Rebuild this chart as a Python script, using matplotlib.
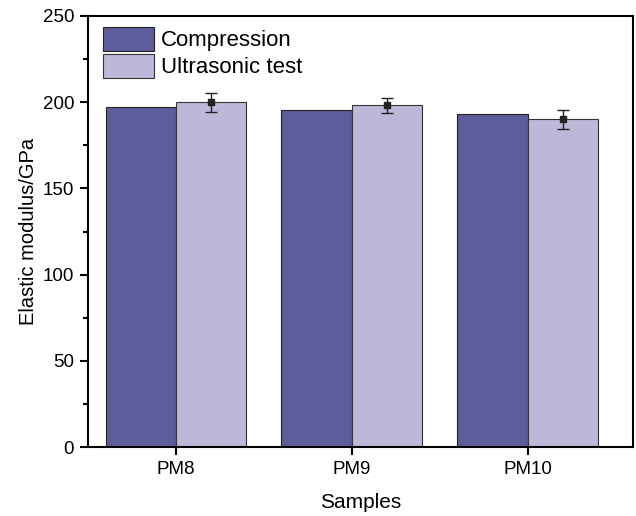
import numpy as np
import matplotlib
matplotlib.use("Agg")
import matplotlib.pyplot as plt

plt.rcParams['font.family'] = ['Liberation Sans', 'DejaVu Sans']

samples = ['PM8', 'PM9', 'PM10']
compression = [197.0, 195.7, 193.2]
ultrasonic = [200.0, 198.3, 190.0]
ultrasonic_err = [5.4, 4.3, 5.5]

fig = plt.figure(figsize=(6.36, 5.16), dpi=100)
ax = fig.add_axes([0.1384, 0.1337, 0.8569, 0.8353])

x = np.arange(len(samples))
w = 0.4
ax.bar(x - w / 2, compression, w, color='#5d5d9c', edgecolor='#222222', linewidth=0.8, label='Compression')
ax.bar(x + w / 2, ultrasonic, w, color='#bcb9d8', edgecolor='#333333', linewidth=0.8, label='Ultrasonic test')
ax.errorbar(x + w / 2, ultrasonic, yerr=ultrasonic_err, fmt='s', ms=4, color='#222222',
            ecolor='#222222', elinewidth=1, capsize=4, capthick=1)

ax.set_xlim(-0.5, 2.6)
ax.set_ylim(0, 250)
ax.set_xticks(x)
ax.set_xticklabels(samples)
ax.set_yticks([0, 50, 100, 150, 200, 250])
ax.set_yticks(np.arange(25, 250, 50), minor=True)
ax.tick_params(axis='both', which='major', direction='out', length=6, width=1.5, labelsize=13.5, pad=4)
ax.tick_params(axis='y', which='minor', direction='out', length=3.5, width=1.5)
for s in ax.spines.values():
    s.set_linewidth(1.5)

ax.set_xlabel('Samples', fontsize=15, labelpad=11)
ax.set_ylabel('Elastic modulus/GPa', fontsize=14.5, labelpad=3)

ax.legend(loc='upper left', frameon=False, fontsize=16, handlelength=2.3, handleheight=1.3,
          handletextpad=0.3, labelspacing=0.1, borderpad=0, borderaxespad=0,
          bbox_to_anchor=(0.027, 0.975))

fig.savefig('out.png', dpi=100)
